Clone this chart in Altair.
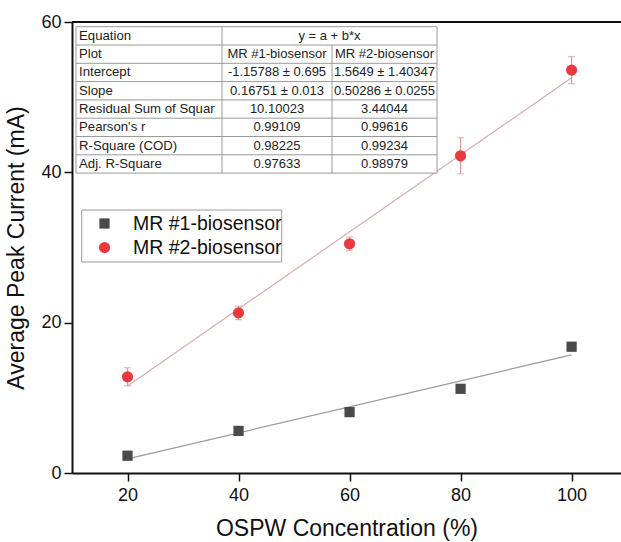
import altair as alt
import pandas as pd

# ---- data ----
conc = [20, 40, 60, 80, 100]
mr1_current = [2.3, 5.6, 8.1, 11.2, 16.8]
mr1_err = [0.3, 0.3, 0.3, 0.4, 0.4]
mr2_current = [12.8, 21.3, 30.5, 42.2, 53.6]
mr2_err = [1.2, 0.9, 0.9, 2.4, 1.8]
series_names = ["MR #1-biosensor", "MR #2-biosensor"]

table_labels = ["Equation", "Plot", "Intercept", "Slope", "Residual Sum of Squar",
                "Pearson's r", "R-Square (COD)", "Adj. R-Square"]
table_mr1 = ["", "MR #1-biosensor", "-1.15788 ± 0.695", "0.16751 ± 0.013", "10.10023",
             "0.99109", "0.98225", "0.97633"]
table_mr2 = ["", "MR #2-biosensor", "1.5649 ± 1.40347", "0.50286 ± 0.0255", "3.44044",
             "0.99616", "0.99234", "0.98979"]
equation_text = "y = a + b*x"

FONT = "Liberation Sans"
W, H = 549, 451
X_DOM = [10.0, 108.9]
Y_DOM = [0, 60]

rows = []
for name, ys, es in [(series_names[0], mr1_current, mr1_err), (series_names[1], mr2_current, mr2_err)]:
    for x, y, e in zip(conc, ys, es):
        rows.append({"conc": x, "cur": y, "lo": y - e, "hi": y + e, "series": name})
df = pd.DataFrame(rows)

xs = alt.Scale(domain=X_DOM, nice=False, zero=False)
ys_ = alt.Scale(domain=Y_DOM, nice=False)

X = alt.X("conc:Q", scale=xs, title="OSPW Concentration (%)",
          axis=alt.Axis(values=conc, grid=False, tickSize=8, labelPadding=5, titlePadding=13))
Y = alt.Y("cur:Q", scale=ys_, title="Average Peak Current (mA)",
          axis=alt.Axis(values=[0, 20, 40, 60], grid=False, tickSize=8, labelPadding=3, titlePadding=12))

color_scale = alt.Scale(domain=series_names, range=["#4a4a4a", "#ea3a3f"])
shape_scale = alt.Scale(domain=series_names, range=["square", "circle"])
fit_colors = alt.Scale(domain=series_names, range=["#9a9a9a", "#dcaaaa"])


def px_to_x(px):
    return X_DOM[0] + px / W * (X_DOM[1] - X_DOM[0])


def py_to_y(py):
    return Y_DOM[1] - py / H * (Y_DOM[1] - Y_DOM[0])


fits = alt.Chart(df).transform_regression("conc", "cur", groupby=["series"]).mark_line(
    strokeWidth=1.2).encode(
    x=alt.X("conc:Q", scale=xs), y=alt.Y("cur:Q", scale=ys_),
    stroke=alt.Stroke("series:N", scale=fit_colors, legend=None))

err2 = df[df.series == series_names[1]]
ERR_C = "#dc9a9a"
ebar = alt.Chart(err2).mark_rule(color=ERR_C, strokeWidth=1.2).encode(
    x=alt.X("conc:Q", scale=xs), y=alt.Y("lo:Q", scale=ys_), y2="hi:Q")
cap_lo = alt.Chart(err2).mark_tick(color=ERR_C, thickness=1.2, size=7, orient="horizontal").encode(
    x=alt.X("conc:Q", scale=xs), y=alt.Y("lo:Q", scale=ys_))
cap_hi = alt.Chart(err2).mark_tick(color=ERR_C, thickness=1.2, size=7, orient="horizontal").encode(
    x=alt.X("conc:Q", scale=xs), y=alt.Y("hi:Q", scale=ys_))

size_scale = alt.Scale(domain=series_names, range=[105, 125])
points = alt.Chart(df).mark_point(filled=True, opacity=1).encode(
    x=X, y=Y,
    color=alt.Color("series:N", scale=color_scale, legend=None),
    shape=alt.Shape("series:N", scale=shape_scale, legend=None),
    size=alt.Size("series:N", scale=size_scale, legend=None),
)

top_rule = alt.Chart(pd.DataFrame({"v": [Y_DOM[1]]})).mark_rule(color="#111", strokeWidth=2).encode(
    y=alt.Y("v:Q", scale=ys_), x=alt.value(0), x2=alt.value(W))

# ---- legend box (layout offsets converted to data units) ----
LG_L, LG_T, LG_W, LG_H = 9.7, 188, 200, 52
LG_ROW0, LG_ROW_STEP = 201.5, 24
leg_rows = []
for i, name in enumerate(series_names):
    yy = py_to_y(LG_ROW0 + i * LG_ROW_STEP)
    leg_rows.append({"series": name, "sx": px_to_x(32.5), "tx": px_to_x(61), "ly": yy})
legdf = pd.DataFrame(leg_rows)

leg_box = alt.Chart(pd.DataFrame({"x1": [px_to_x(LG_L)], "x2": [px_to_x(LG_L + LG_W)],
                                  "y1": [py_to_y(LG_T)], "y2": [py_to_y(LG_T + LG_H)]})).mark_rect(
    fill="white", stroke="#9a9a9a", strokeWidth=1).encode(
    x=alt.X("x1:Q", scale=xs), x2="x2:Q", y=alt.Y("y1:Q", scale=ys_), y2="y2:Q")
leg_sym = alt.Chart(legdf).mark_point(filled=True, opacity=1).encode(
    x=alt.X("sx:Q", scale=xs), y=alt.Y("ly:Q", scale=ys_),
    color=alt.Color("series:N", scale=color_scale, legend=None),
    shape=alt.Shape("series:N", scale=shape_scale, legend=None),
    size=alt.Size("series:N", scale=size_scale, legend=None))
leg_txt = alt.Chart(legdf).mark_text(align="left", baseline="middle", font=FONT, fontSize=19.5,
                                      color="#111").encode(
    x=alt.X("tx:Q", scale=xs), y=alt.Y("ly:Q", scale=ys_), text="series:N")

# ---- statistics table ----
T_LEFT, T_TOP = 4.0, 4.7
col_edges = [0, 146, 256, 361]
row_h = 18.3
n_rows = len(table_labels)

cells = []
for r in range(n_rows):
    cy = py_to_y(T_TOP + r * row_h + row_h / 2)
    cells.append({"tx": px_to_x(T_LEFT + 3), "ty": cy, "t": table_labels[r], "al": "left"})
    if r == 0:
        cells.append({"tx": px_to_x(T_LEFT + (col_edges[1] + col_edges[3]) / 2), "ty": cy, "t": equation_text, "al": "center"})
    else:
        cells.append({"tx": px_to_x(T_LEFT + (col_edges[1] + col_edges[2]) / 2), "ty": cy, "t": table_mr1[r], "al": "center"})
        cells.append({"tx": px_to_x(T_LEFT + (col_edges[2] + col_edges[3]) / 2), "ty": cy, "t": table_mr2[r], "al": "center"})
cdf = pd.DataFrame(cells)

bg = alt.Chart(pd.DataFrame({"a": [0]})).mark_rect(fill="white").encode(
    x=alt.value(T_LEFT), x2=alt.value(T_LEFT + col_edges[3]),
    y=alt.value(T_TOP), y2=alt.value(T_TOP + n_rows * row_h))

txt_left = alt.Chart(cdf[cdf.al == "left"]).mark_text(
    align="left", baseline="middle", font=FONT, fontSize=13.2, color="#222").encode(
    x=alt.X("tx:Q", scale=xs), y=alt.Y("ty:Q", scale=ys_), text="t:N")
txt_center = alt.Chart(cdf[cdf.al == "center"]).mark_text(
    align="center", baseline="middle", font=FONT, fontSize=13, color="#222").encode(
    x=alt.X("tx:Q", scale=xs), y=alt.Y("ty:Q", scale=ys_), text="t:N")

lines = []
for r in range(n_rows + 1):
    yy = py_to_y(T_TOP + r * row_h)
    lines.append({"x1": px_to_x(T_LEFT), "x2": px_to_x(T_LEFT + col_edges[3]), "y1": yy, "y2": yy})
for i, e in enumerate(col_edges):
    y_start = py_to_y(T_TOP + (row_h if i == 2 else 0))
    lines.append({"x1": px_to_x(T_LEFT + e), "x2": px_to_x(T_LEFT + e), "y1": y_start,
                  "y2": py_to_y(T_TOP + n_rows * row_h)})
ldf = pd.DataFrame(lines)
grid = alt.Chart(ldf).mark_rule(color="#9a9a9a", strokeWidth=1).encode(
    x=alt.X("x1:Q", scale=xs), x2="x2:Q",
    y=alt.Y("y1:Q", scale=ys_), y2="y2:Q")

chart = alt.layer(fits, ebar, cap_lo, cap_hi, points, bg, grid, txt_left, txt_center,
                  leg_box, leg_sym, leg_txt, top_rule).properties(
    width=W, height=H,
    autosize=alt.AutoSizeParams(type="none"),
    padding={"left": 72, "top": 22, "right": 0, "bottom": 69},
).configure_view(stroke=None).configure_axis(
    labelFont=FONT, titleFont=FONT, labelFontSize=18, titleFontSize=23,
    labelColor="#111", titleColor="#111", titleFontWeight="normal",
    domainColor="#111", tickColor="#111", domainWidth=2, tickWidth=1.5,
)

chart.save("out.html", embed_options={"renderer": "svg", "actions": False})
